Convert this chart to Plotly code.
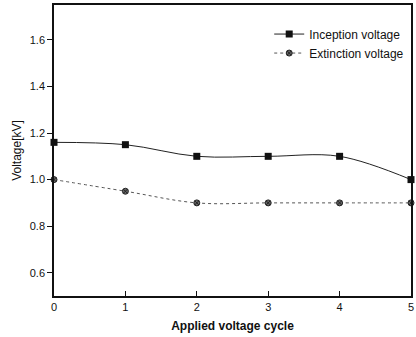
import plotly.graph_objects as go

cycles = [0, 1, 2, 3, 4, 5]
inception = [1.16, 1.15, 1.10, 1.10, 1.10, 1.00]
extinction = [1.00, 0.95, 0.90, 0.90, 0.90, 0.90]
y_ticks = [0.6, 0.8, 1.0, 1.2, 1.4, 1.6]

fig = go.Figure()
fig.add_trace(go.Scatter(
    x=cycles, y=inception, name="Inception voltage",
    mode="lines+markers", line=dict(color="#222", width=1, shape="spline"),
    marker=dict(symbol="square", size=7, color="#111"), cliponaxis=False))
fig.add_trace(go.Scatter(
    x=cycles, y=extinction, name="Extinction voltage",
    mode="lines+markers", line=dict(color="#555", width=1, dash="dot", shape="spline"),
    marker=dict(symbol="circle-x", size=6, color="#666", line=dict(color="#222", width=1)),
    cliponaxis=False))

fig.update_layout(
    width=416, height=337,
    margin=dict(l=54, r=3, t=5, b=41),
    paper_bgcolor="white", plot_bgcolor="white",
    font=dict(family="Liberation Sans, Arial", size=11, color="#111"),
    showlegend=True,
    legend=dict(x=0.995, y=0.95, xanchor="right", yanchor="top",
                bgcolor="rgba(0,0,0,0)", font=dict(size=12),
                tracegroupgap=0, itemwidth=30),
)
fig.update_xaxes(range=[0, 5], tickvals=cycles, showgrid=False, zeroline=False,
                 showline=True, linecolor="#111", linewidth=1.5, mirror=True,
                 ticks="inside", ticklen=5, tickcolor="#111",
                 title=dict(text="<b>Applied voltage cycle</b>", font=dict(size=12), standoff=10))
fig.update_yaxes(range=[0.5, 1.75], tickvals=y_ticks, tickformat=".1f", showgrid=False, zeroline=False,
                 showline=True, linecolor="#111", linewidth=1.5, mirror=True,
                 ticks="outside", ticklen=5, tickcolor="#111",
                 title=dict(text="Voltage[kV]", font=dict(size=12), standoff=6))

fig.write_html("out.html")
